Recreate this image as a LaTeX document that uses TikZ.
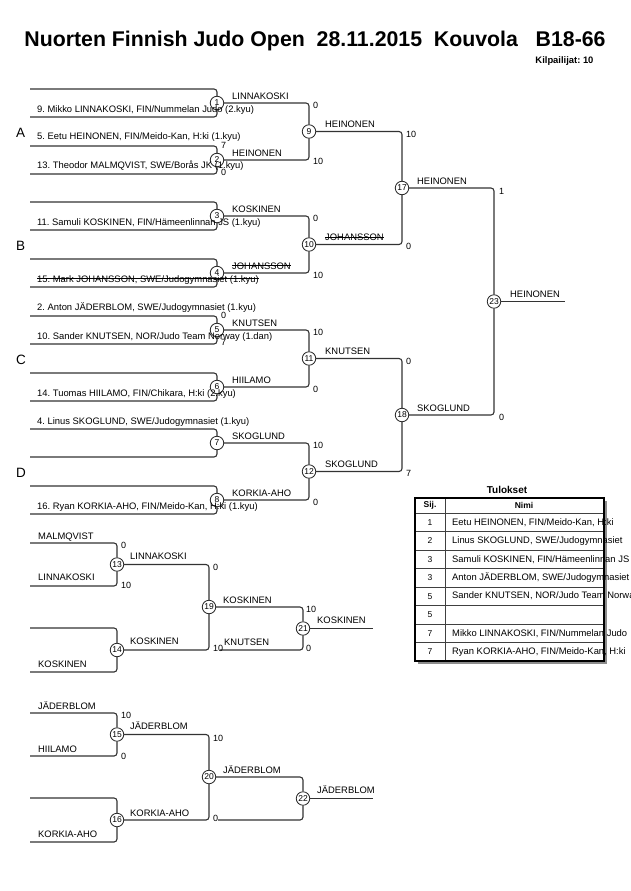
\documentclass[tikz,border=0pt]{standalone}
\usepackage{fontspec}
\setmainfont{Liberation Sans}
\frenchspacing

\begin{document}
\begin{tikzpicture}[x=1pt,y=-1pt,
    line/.style={draw=black!80,line width=1.1pt,rounded corners=3pt},
    bout/.style={circle,draw=black!85,line width=0.8pt,fill=white,inner sep=0pt,minimum size=13.5pt,font=\fontsize{8.5}{9}\selectfont},
    who/.style={anchor=base west,inner sep=0pt,font=\fontsize{9.4}{11}\selectfont},
    pts/.style={anchor=west,inner sep=0pt,font=\fontsize{9}{10}\selectfont},
    pool/.style={anchor=west,inner sep=0pt,font=\fontsize{13.5}{15}\selectfont},
    strike/.style={line width=0.6pt}]
\useasboundingbox (0,0) rectangle (630,891);
\clip (0,0) rectangle (630,891);
\fill[white] (0,0) rectangle (630,891);

\node[font=\bfseries\fontsize{21.3}{24}\selectfont] (title) at (315,41) {Nuorten Finnish Judo Open\ \ 28.11.2015\ \ Kouvola\ \ \ B18-66};
\node[anchor=east,font=\bfseries\fontsize{9.4}{10}\selectfont] (count) at (597,61) {Kilpailijat: 10};

% main draw
\foreach \i/\y in {1/89,2/117,3/146,4/174,5/202,6/230,7/259,8/287,9/316,10/344,11/373,12/401,13/429,14/457,15/486,16/514}
    \coordinate (s\i) at (30,\y);
\foreach \m/\x/\y in {1/217/103,2/217/160,3/217/216,4/217/273,5/217/330,6/217/387,7/217/443,8/217/500,
                      9/309/131.5,10/309/244.5,11/309/358.5,12/309/471.5,17/402/188,18/402/415,23/494/301.5}
    \node[bout] (m\m) at (\x,\y) {\m};
\coordinate (fin) at (565,301.5);

% repechage
\foreach \i/\y in {1/543,2/586,3/628,4/672,5/713,6/756,7/798,8/842}
    \coordinate (r\i) at (30,\y);
\foreach \m/\x/\y in {13/117/564.5,14/117/650,15/117/734.5,16/117/820,19/209/607,20/209/777,21/303/628.5,22/303/798.5}
    \node[bout] (m\m) at (\x,\y) {\m};
\coordinate (kn) at (220,650);
\coordinate (kl) at (218,820);
\coordinate (rk) at (373,628.5);
\coordinate (rj) at (373,798.5);

\foreach \m in {1,...,8} {
    \pgfmathtruncatemacro\t{2*\m-1}
    \pgfmathtruncatemacro\u{2*\m}
    \draw[line] (s\t) -| (m\m.north);
    \draw[line] (s\u) -| (m\m.south);
}
\foreach \m/\t/\u in {13/1/2,14/3/4,15/5/6,16/7/8} {
    \draw[line] (r\t) -| (m\m.north);
    \draw[line] (r\u) -| (m\m.south);
}
\foreach \a/\b/\c in {1/2/9,3/4/10,5/6/11,7/8/12,9/10/17,11/12/18,17/18/23,13/14/19,15/16/20} {
    \draw[line] (m\a.east) -| (m\c.north);
    \draw[line] (m\b.east) -| (m\c.south);
}
\draw[line] (m19.east) -| (m21.north);
\draw[line] (kn) -| (m21.south);
\draw[line] (m20.east) -| (m22.north);
\draw[line] (kl) -| (m22.south);
\draw[line] (m23.east) -- (fin);
\draw[line] (m21.east) -- (rk);
\draw[line] (m22.east) -- (rj);

% pools
\node[pool] (pa) at (16,133) {A};
\node[pool] (pb) at (16,246) {B};
\node[pool] (pc) at (16,360) {C};
\node[pool] (pd) at (16,473) {D};

% competitors
\foreach \y/\t [count=\k] in {112/{9. Mikko LINNAKOSKI, FIN/Nummelan Judo (2.kyu)},
        139/{5. Eetu HEINONEN, FIN/Meido-Kan, H:ki (1.kyu)},
        168/{13. Theodor MALMQVIST, SWE/Borås JK (1.kyu)},
        225/{11. Samuli KOSKINEN, FIN/Hämeenlinnan JS (1.kyu)},
        310/{2. Anton JÄDERBLOM, SWE/Judogymnasiet (1.kyu)},
        339/{10. Sander KNUTSEN, NOR/Judo Team Norway (1.dan)},
        396/{14. Tuomas HIILAMO, FIN/Chikara, H:ki (2.kyu)},
        424/{4. Linus SKOGLUND, SWE/Judogymnasiet (1.kyu)},
        509/{16. Ryan KORKIA-AHO, FIN/Meido-Kan, H:ki (1.kyu)}}
    \node[who] (p\k) at (37,\y) {\t};
\node[who] (pj) at (37,282) {15. Mark JOHANSSON, SWE/Judogymnasiet (1.kyu)};
\draw[strike] ([yshift=1pt]pj.west) -- ([yshift=1pt]pj.east);

% winners
\foreach \x/\y/\t [count=\k] in {232/99/LINNAKOSKI,232/156/HEINONEN,232/212/KOSKINEN,232/326/KNUTSEN,
        232/383/HIILAMO,232/439/SKOGLUND,232/496/KORKIA-AHO,325/127.5/HEINONEN,325/354.5/KNUTSEN,
        325/467.5/SKOGLUND,417/184/HEINONEN,417/411/SKOGLUND,510/297.5/HEINONEN,
        38/539.5/MALMQVIST,38/580.5/LINNAKOSKI,38/667.5/KOSKINEN,38/709.5/JÄDERBLOM,38/752.5/HIILAMO,
        38/837.5/KORKIA-AHO,130/559.5/LINNAKOSKI,130/644.5/KOSKINEN,223/603.5/KOSKINEN,224/645.5/KNUTSEN,
        317/623.5/KOSKINEN,130/729.5/JÄDERBLOM,130/816.5/KORKIA-AHO,223/773.5/JÄDERBLOM,317/793.5/JÄDERBLOM}
    \node[who] (w\k) at (\x,\y) {\t};
\node[who] (wj1) at (232,269) {JOHANSSON};
\node[who] (wj2) at (325,240.5) {JOHANSSON};
\draw[strike] (wj1.west) -- (wj1.east);
\draw[strike] (wj2.west) -- (wj2.east);

% scores
\foreach \x/\y/\t [count=\k] in {221/145/7,221/172/0,221/315/0,221/342/7,
        313/105/0,313/161/10,313/218/0,313/275/10,313/332/10,313/389/0,313/445/10,313/502/0,
        406/134/10,406/246/0,406/361/0,406/473/7,499/191/1,499/417/0,
        121/545/0,121/585/10,213/567/0,213/648/10,306/609/10,306/648/0,
        121/715/10,121/756/0,213/738/10,213/818/0}
    \node[pts] (sc\k) at (\x,\y) {\t};

% results
\node[font=\bfseries\fontsize{10}{12}\selectfont] (res) at (507,490) {Tulokset};
\fill[black!45] (418,501) rectangle (607,664);
\fill[white] (415,498) rectangle (604,661);
\node[font=\bfseries\fontsize{8.5}{10}\selectfont] (hsij) at (430,505.5) {Sij.};
\node[font=\bfseries\fontsize{8.5}{10}\selectfont] (hnimi) at (524,505.5) {Nimi};
\foreach \r/\n [count=\k] in {1/{Eetu HEINONEN, FIN/Meido-Kan, H:ki},2/{Linus SKOGLUND, SWE/Judogymnasiet},
        3/{Samuli KOSKINEN, FIN/Hämeenlinnan JS},3/{Anton JÄDERBLOM, SWE/Judogymnasiet},
        5/{Sander KNUTSEN, NOR/Judo Team Norway},5/{},7/{Mikko LINNAKOSKI, FIN/Nummelan Judo},
        7/{Ryan KORKIA-AHO, FIN/Meido-Kan, H:ki}} {
    \node[font=\fontsize{8.5}{10}\selectfont] (rs\k) at (430,{522.25+18.5*(\k-1)}) {\r};
    \node[anchor=west,inner sep=0pt,font=\fontsize{9.4}{11}\selectfont] (rn\k) at (452,{522.25+18.5*(\k-1)}) {\n};
}
\foreach \k in {0,...,7}
    \draw[black!75,line width=0.7pt] (415,{513+18.5*\k}) -- (604,{513+18.5*\k});
\draw[black!75,line width=0.7pt] (445,498) -- (445,661);
\draw[line width=1.6pt] (415,498) rectangle (604,661);
\end{tikzpicture}
\end{document}
